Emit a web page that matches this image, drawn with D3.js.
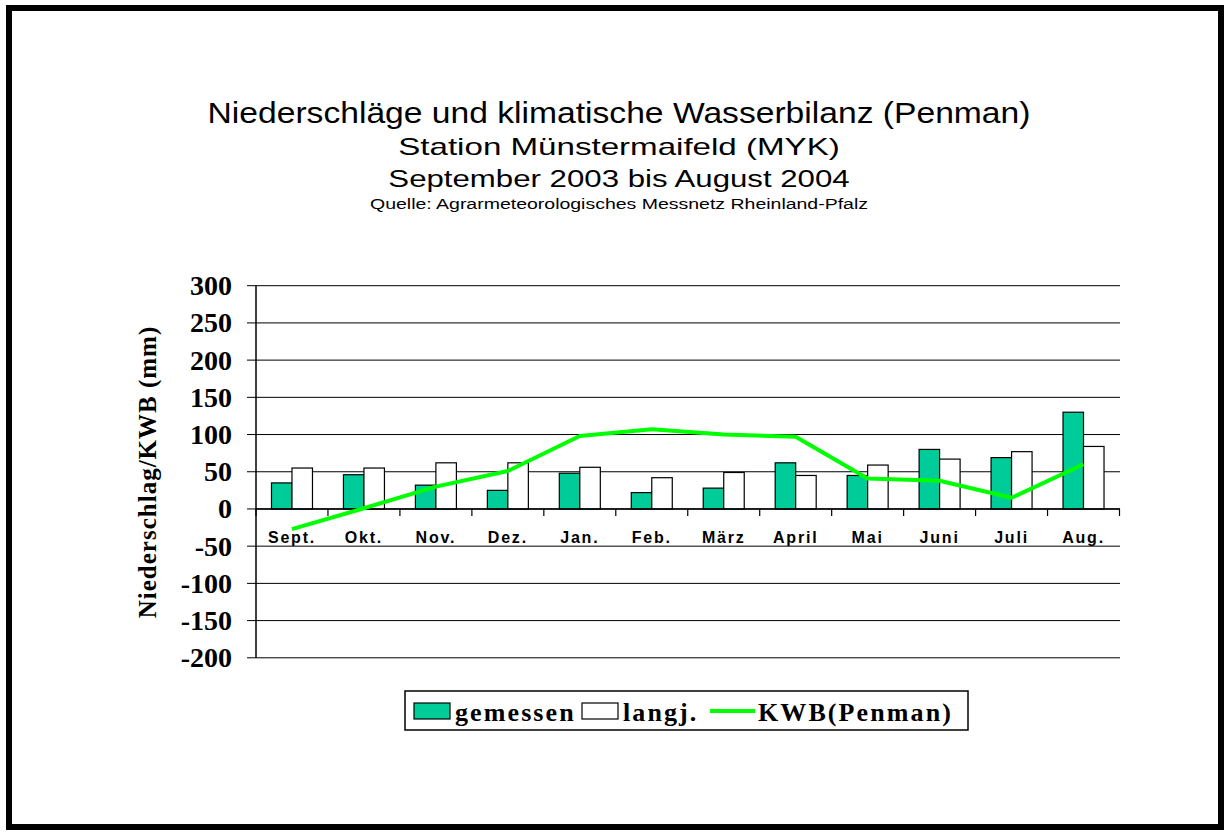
<!DOCTYPE html>
<html lang="de">
<head>
  <title>Niederschläge und klimatische Wasserbilanz</title>
  <meta charset="utf-8">
  <script src="https://d3js.org/d3.v7.min.js" charset="utf-8"></script>
  <style>
  body { margin: 0; background: #fff; }
  .title { font-family: Arial, "Liberation Sans", sans-serif; fill: #000; }
  .serif { font-family: "Times New Roman", "Liberation Serif", serif; font-weight: bold; fill: #000; }
  </style>
</head>
<body>
  <script>
    // Monatswerte
    var months = ['Sept.', 'Okt.', 'Nov.', 'Dez.', 'Jan.', 'Feb.', 'März', 'April', 'Mai', 'Juni', 'Juli', 'Aug.'];
    var gemessen = [35, 46, 32, 25, 48, 22, 28, 62, 45, 80, 69, 130];
    var langj = [55, 55, 62, 62, 56, 42, 49, 45, 59, 67, 77, 84];
    var kwb = [-27, 1, 30, 51, 98, 107, 100, 97, 41, 38, 15, 60];
    var yTicks = [-200, -150, -100, -50, 0, 50, 100, 150, 200, 250, 300];
    var seriesNames = ['gemessen', 'langj.', 'KWB(Penman)'];

    var w = 1230;
    var h = 835;
    var barColor = '#00cc99';
    var lineColor = '#00ff00';

    var svg = d3.select('body')
      .append('svg')
      .attr('width', w)
      .attr('height', h);

    // Rahmen
    svg.append('rect')
      .attr('x', 9)
      .attr('y', 8)
      .attr('width', w - 18)
      .attr('height', h - 16)
      .attr('fill', 'none')
      .attr('stroke', '#000')
      .attr('stroke-width', 6);

    // Titelzeilen (Schrift ist in der Vorlage horizontal gestreckt)
    var titles = [
      { text: 'Niederschläge und klimatische Wasserbilanz (Penman)', y: 123, size: 29, sx: 1.16 },
      { text: 'Station Münstermaifeld (MYK)', y: 155, size: 24, sx: 1.38 },
      { text: 'September 2003 bis August 2004', y: 187, size: 24, sx: 1.3 },
      { text: 'Quelle: Agrarmeteorologisches Messnetz Rheinland-Pfalz', y: 209, size: 15, sx: 1.3 }
    ];
    svg.selectAll('text.title')
      .data(titles)
      .enter()
      .append('text')
      .attr('class', 'title')
      .attr('text-anchor', 'middle')
      .attr('transform', function(d) { return 'translate(619,' + d.y + ') scale(' + d.sx + ',1)'; })
      .attr('font-size', function(d) { return d.size; })
      .text(function(d) { return d.text; });

    var x = d3.scaleBand()
      .domain(months)
      .range([256, 1119.5]);

    var xInner = d3.scaleBand()
      .domain(['gemessen', 'langj'])
      .range([0, x.bandwidth()])
      .paddingOuter(0.755);

    var y = d3.scaleLinear()
      .domain([-200, 300])
      .range([657.8, 285.7]);

    // Gitterlinien mit Strich links der Achse
    svg.selectAll('line.grid')
      .data(yTicks)
      .enter()
      .append('line')
      .attr('x1', 247)
      .attr('x2', 1120)
      .attr('y1', function(d) { return y(d); })
      .attr('y2', function(d) { return y(d); })
      .attr('stroke', '#000')
      .attr('stroke-width', 1);

    svg.selectAll('text.ytick')
      .data(yTicks)
      .enter()
      .append('text')
      .attr('class', 'serif')
      .attr('x', 232)
      .attr('y', function(d) { return y(d); })
      .attr('dy', '0.34em')
      .attr('text-anchor', 'end')
      .attr('font-size', 28)
      .text(function(d) { return d; });

    // y-Achse
    svg.append('line')
      .attr('x1', 256)
      .attr('x2', 256)
      .attr('y1', y(300))
      .attr('y2', y(-200))
      .attr('stroke', '#000')
      .attr('stroke-width', 1.5);

    svg.append('text')
      .attr('class', 'serif')
      .attr('text-anchor', 'middle')
      .attr('transform', 'translate(156,472) rotate(-90)')
      .attr('font-size', 25)
      .attr('letter-spacing', 1)
      .text('Niederschlag/KWB (mm)');

    // Balken
    var groups = svg.selectAll('g.month')
      .data(months)
      .enter()
      .append('g')
      .attr('transform', function(d) { return 'translate(' + x(d) + ',0)'; });

    groups.append('rect')
      .attr('x', xInner('gemessen'))
      .attr('width', xInner.bandwidth())
      .attr('y', function(d, i) { return y(gemessen[i]); })
      .attr('height', function(d, i) { return y(0) - y(gemessen[i]); })
      .attr('fill', barColor)
      .attr('stroke', '#000')
      .attr('stroke-width', 1.2);

    groups.append('rect')
      .attr('x', xInner('langj'))
      .attr('width', xInner.bandwidth())
      .attr('y', function(d, i) { return y(langj[i]); })
      .attr('height', function(d, i) { return y(0) - y(langj[i]); })
      .attr('fill', '#fff')
      .attr('stroke', '#000')
      .attr('stroke-width', 1.2);

    // x-Achse bei 0 mit Strichen zwischen den Monaten
    svg.append('line')
      .attr('x1', 256)
      .attr('x2', 1120)
      .attr('y1', y(0))
      .attr('y2', y(0))
      .attr('stroke', '#000')
      .attr('stroke-width', 1.5);

    svg.selectAll('line.xtick')
      .data(months.concat(['end']))
      .enter()
      .append('line')
      .attr('x1', function(d, i) { return 256 + i * x.step(); })
      .attr('x2', function(d, i) { return 256 + i * x.step(); })
      .attr('y1', y(0))
      .attr('y2', y(0) + 7)
      .attr('stroke', '#000')
      .attr('stroke-width', 1.2);

    svg.selectAll('text.month')
      .data(months)
      .enter()
      .append('text')
      .attr('x', function(d) { return x(d) + x.bandwidth() / 2; })
      .attr('y', 543)
      .attr('text-anchor', 'middle')
      .attr('font-family', 'Arial, "Liberation Sans", sans-serif')
      .attr('font-weight', 'bold')
      .attr('font-size', 16)
      .attr('letter-spacing', 1.8)
      .text(function(d) { return d; });

    // KWB-Linie
    var line = d3.line()
      .x(function(d, i) { return x(months[i]) + x.bandwidth() / 2; })
      .y(function(d) { return y(d); });

    svg.append('path')
      .datum(kwb)
      .attr('d', line)
      .attr('fill', 'none')
      .attr('stroke', lineColor)
      .attr('stroke-width', 4)
      .attr('stroke-linejoin', 'round');

    // Legende
    var legend = svg.append('g');
    legend.append('rect')
      .attr('x', 405)
      .attr('y', 691)
      .attr('width', 563)
      .attr('height', 39)
      .attr('fill', '#fff')
      .attr('stroke', '#000')
      .attr('stroke-width', 1.5);

    legend.append('rect')
      .attr('x', 414).attr('y', 703).attr('width', 36).attr('height', 16)
      .attr('fill', barColor).attr('stroke', '#000').attr('stroke-width', 1.2);
    legend.append('rect')
      .attr('x', 582).attr('y', 703).attr('width', 36).attr('height', 16)
      .attr('fill', '#fff').attr('stroke', '#000').attr('stroke-width', 1.2);
    legend.append('line')
      .attr('x1', 710).attr('x2', 755).attr('y1', 711).attr('y2', 711)
      .attr('stroke', lineColor).attr('stroke-width', 4);

    legend.selectAll('text')
      .data(seriesNames)
      .enter()
      .append('text')
      .attr('class', 'serif')
      .attr('x', function(d, i) { return [455, 623, 758][i]; })
      .attr('y', 721)
      .attr('font-size', 26)
      .attr('letter-spacing', 2.1)
      .text(function(d) { return d; });
  </script>
</body>
</html>
